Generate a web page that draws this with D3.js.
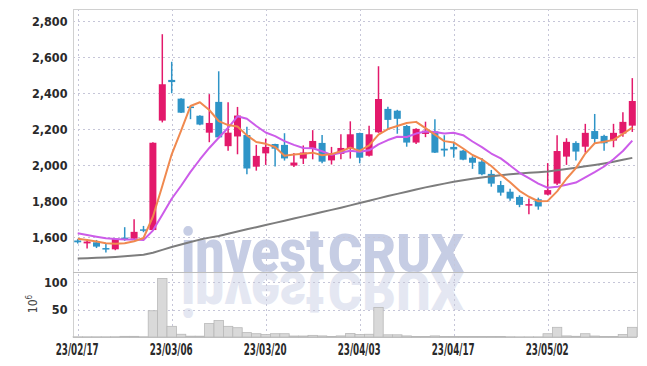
<!DOCTYPE html>
<meta charset="utf-8">
<title>Candles</title>
<style>
body {
  margin: 0;
  background-color: #fff;
}
text {
  font-family: "DejaVu Sans Condensed", "DejaVu Sans", sans-serif;
  font-stretch: condensed;
  fill: #2a2a2a;
}
</style>
<svg width="647" height="366"></svg>
<script src="https://cdn.jsdelivr.net/npm/d3@7"></script>
<script>

// trading days, 23/02/17 .. 23/05/16
var dates = ["23/02/17","23/02/20","23/02/21","23/02/22","23/02/23","23/02/24","23/02/27","23/02/28","23/03/02","23/03/03",
             "23/03/06","23/03/07","23/03/08","23/03/09","23/03/10","23/03/13","23/03/14","23/03/15","23/03/16","23/03/17",
             "23/03/20","23/03/21","23/03/22","23/03/23","23/03/24","23/03/27","23/03/28","23/03/29","23/03/30","23/03/31",
             "23/04/03","23/04/04","23/04/05","23/04/06","23/04/07","23/04/10","23/04/11","23/04/12","23/04/13","23/04/14",
             "23/04/17","23/04/18","23/04/19","23/04/20","23/04/21","23/04/24","23/04/25","23/04/26","23/04/27","23/04/28",
             "23/05/02","23/05/03","23/05/04","23/05/08","23/05/09","23/05/10","23/05/11","23/05/12","23/05/15","23/05/16"];

var open  = [1582,1566,1572,1540,1533,1598,1592,1644,1640,2248, 2474,2370,2326,2275,2181,2352,2106,2160,2168,1992,
             2066,2118,2113,1998,2037,2092,2124,2027,2063,2092, 2179,2053,2183,2313,2303,2218,2126,2174,2188,2092,
             2102,2081,2042,2020,1952,1890,1853,1824,1776,1811, 1837,1898,2048,2124,2103,2190,2163,2137,2176,2220];
var high  = [1590,1590,1585,1567,1594,1656,1700,1663,2128,2728, 2575,2372,2328,2278,2395,2522,2350,2324,2214,2113,
             2148,2120,2178,2068,2110,2195,2168,2102,2172,2244, 2181,2220,2550,2325,2308,2224,2205,2242,2256,2167,
             2131,2085,2050,2040,1974,1913,1870,1833,1815,1820, 2012,2167,2150,2133,2230,2285,2170,2230,2295,2484];
var low   = [1565,1537,1540,1515,1528,1580,1588,1628,1636,2238, 2400,2290,2256,2222,2128,2150,2080,2061,1950,1970,
             2002,1993,2026,1990,2007,2033,2011,2004,2033,2037, 2011,2048,2180,2202,2175,2103,2118,2156,2068,2048,
             2042,2028,1980,1944,1881,1831,1803,1767,1728,1753, 1833,1890,2002,2026,2070,2118,2081,2100,2159,2185];
var close = [1572,1576,1548,1534,1592,1586,1630,1636,2125,2450, 2462,2292,2318,2226,2235,2155,2181,2276,1982,2052,
             2102,2092,2038,2015,2071,2135,2020,2068,2096,2172, 2042,2172,2368,2252,2258,2126,2202,2192,2070,2082,
             2088,2031,2014,1950,1898,1848,1815,1780,1784,1771, 1862,2079,2130,2076,2180,2146,2122,2180,2241,2357];

// volume, millions of shares
var volume = [0.4,0.4,0.4,0.4,0.5,1.2,1.2,0.5,48,107, 19.5,5,1.5,1.5,24.5,30,19.5,17,8,6,
              4.4,6,6,1.8,1.8,3,2,1,2,6.5, 4.5,5,54,4,4,2,1,1,2,1,
              1,1,1,1,1,0.8,0.5,0.3,0.3,0.3, 6,17.7,2,1.3,6,1.8,1,1,4.5,17.7];

// moving averages
var ma5  = [1592,1585,1576,1567,1564,1567,1578,1596,1714,1885, 2061,2193,2329,2350,2307,2245,2223,2215,2166,2129,
            2119,2101,2053,2060,2064,2070,2056,2062,2078,2098, 2080,2110,2170,2201,2218,2235,2241,2206,2170,2134,
            2127,2093,2057,2033,1996,1948,1905,1858,1825,1800, 1802,1855,1925,1984,2065,2122,2131,2141,2174,2209];
var ma10 = [1622,1613,1603,1594,1591,1588,1587,1585,1637,1725, 1814,1886,1963,2032,2096,2153,2208,2272,2258,2218,
            2182,2162,2134,2113,2096,2094,2078,2058,2069,2081, 2075,2083,2116,2140,2158,2157,2176,2188,2185,2176,
            2181,2167,2132,2101,2065,2038,1999,1958,1929,1898, 1875,1880,1892,1904,1933,1962,1993,2033,2079,2137];
var ma60 = [1482,1484,1486,1488,1491,1494,1498,1503,1514,1530, 1546,1560,1574,1587,1598,1607,1620,1632,1644,1656,
            1668,1680,1692,1704,1716,1728,1740,1752,1764,1777, 1790,1803,1816,1829,1841,1853,1865,1877,1888,1898,
            1908,1917,1925,1932,1939,1945,1950,1954,1958,1961, 1965,1972,1979,1986,1994,2002,2010,2019,2030,2041];

var dateTicks  = ["23/02/17","23/03/06","23/03/20","23/04/03","23/04/17","23/05/02"];
var priceTicks = [1600, 1800, 2000, 2200, 2400, 2600, 2800];
var volumeTicks = [50, 100];

var svg = d3.select("svg");

var plotLeft = 73, plotRight = 637, plotTop = 9, split = 272, plotBottom = 337;

var x = d3.scaleBand()
    .domain(dates)
    .range([plotLeft, plotRight]);

var cx = function(d) { return x(d) + x.bandwidth() / 2; };

var y = d3.scaleLinear()
    .domain([1407, 2868])
    .range([split, plotTop]);

var yv = d3.scaleLinear()
    .domain([0, 118.8])
    .range([plotBottom, split]);

var up = "#e3196b", down = "#2e94c7";

// watermark + its reflection
function logo(g, fill) {
  g.append("text")
      .attr("x", 181).attr("y", split)
      .attr("textLength", 143).attr("lengthAdjust", "spacingAndGlyphs")
      .style("font-family", "Roboto, 'DejaVu Sans', sans-serif")
      .style("font-stretch", "normal")
      .style("font-size", "62px").style("font-weight", 900)
      .style("fill", fill)
      .text("invest");
  g.append("text")
      .attr("x", 328).attr("y", split)
      .attr("textLength", 136).attr("lengthAdjust", "spacingAndGlyphs")
      .style("font-family", "Roboto, 'DejaVu Sans', sans-serif")
      .style("font-stretch", "normal")
      .style("font-size", "53px").style("font-weight", 900)
      .style("fill", fill)
      .text("CRUX");
}
logo(svg.append("g"), "#c6cde4");
logo(svg.append("g").attr("transform", "translate(0," + (2 * split) + ") scale(1,-1)"), "#e4e7f2");

// grid
var grid = svg.append("g")
    .attr("stroke", "#c6c6d8")
    .attr("stroke-width", 1)
    .attr("stroke-dasharray", "2,3");

grid.selectAll("line.py")
    .data(priceTicks)
  .enter().append("line")
    .attr("x1", plotLeft).attr("x2", plotRight)
    .attr("y1", function(d) { return Math.round(y(d)) + 0.5; })
    .attr("y2", function(d) { return Math.round(y(d)) + 0.5; });

grid.selectAll("line.vy")
    .data(volumeTicks)
  .enter().append("line")
    .attr("x1", plotLeft).attr("x2", plotRight)
    .attr("y1", function(d) { return Math.round(yv(d)) + 0.5; })
    .attr("y2", function(d) { return Math.round(yv(d)) + 0.5; });

grid.selectAll("line.gx")
    .data(dateTicks)
  .enter().append("line")
    .attr("x1", function(d) { return Math.round(cx(d)) + 0.5; })
    .attr("x2", function(d) { return Math.round(cx(d)) + 0.5; })
    .attr("y1", plotTop).attr("y2", plotBottom);

// frame
var frame = svg.append("g").attr("stroke", "#d0d0d0").attr("stroke-width", 1);
frame.append("line").attr("x1", plotLeft).attr("x2", plotRight).attr("y1", plotTop + 0.5).attr("y2", plotTop + 0.5);
frame.append("line").attr("x1", plotLeft + 0.5).attr("x2", plotLeft + 0.5).attr("y1", plotTop).attr("y2", plotBottom);
frame.append("line").attr("x1", plotRight + 0.5).attr("x2", plotRight + 0.5).attr("y1", plotTop).attr("y2", plotBottom);
frame.append("line").attr("x1", plotLeft).attr("x2", plotRight).attr("y1", split + 0.5).attr("y2", split + 0.5).attr("stroke", "#bdbdbd");
frame.append("line").attr("x1", plotLeft).attr("x2", plotRight).attr("y1", plotBottom + 0.5).attr("y2", plotBottom + 0.5).attr("stroke", "#c4c4c4");

// volume bars
svg.append("g").selectAll("rect")
    .data(dates)
  .enter().append("rect")
    .attr("x", function(d) { return x(d); })
    .attr("width", x.bandwidth())
    .attr("y", function(d, i) { return yv(volume[i]); })
    .attr("height", function(d, i) { return plotBottom - yv(volume[i]); })
    .attr("fill", "#d9d9d9")
    .attr("stroke", "#b8b8b8")
    .attr("stroke-width", 0.8);

// candles
var candle = svg.append("g").selectAll("g")
    .data(dates)
  .enter().append("g")
    .attr("fill", function(d, i) { return close[i] >= open[i] ? up : down; })
    .attr("stroke", function(d, i) { return close[i] >= open[i] ? up : down; });

candle.append("line")
    .attr("x1", cx).attr("x2", cx)
    .attr("y1", function(d, i) { return y(high[i]); })
    .attr("y2", function(d, i) { return y(low[i]); })
    .attr("stroke-width", 1.5);

candle.append("rect")
    .attr("x", function(d) { return cx(d) - 3.5; })
    .attr("width", 7)
    .attr("y", function(d, i) { return y(Math.max(open[i], close[i])); })
    .attr("height", function(d, i) { return Math.max(1.5, Math.abs(y(open[i]) - y(close[i]))); })
    .attr("stroke", "none");

// moving averages
var line = d3.line()
    .x(function(d, i) { return cx(dates[i]); })
    .y(function(d) { return y(d); });

[[ma60, "#7d7d7d"], [ma10, "#cc5ce9"], [ma5, "#f0894f"]].forEach(function(s) {
  svg.append("path")
      .attr("d", line(s[0]))
      .attr("fill", "none")
      .attr("stroke", s[1])
      .attr("stroke-width", 2)
      .attr("stroke-linejoin", "round");
});

// axis labels
svg.append("g").selectAll("text")
    .data(priceTicks)
  .enter().append("text")
    .attr("x", 67.5)
    .attr("y", function(d) { return y(d) + 4.5; })
    .attr("text-anchor", "end")
    .style("font-size", "12.5px")
    .style("font-weight", "bold")
    .text(d3.format(","));

svg.append("g").selectAll("text")
    .data(volumeTicks)
  .enter().append("text")
    .attr("x", 67.5)
    .attr("y", function(d) { return yv(d) + 4.5; })
    .attr("text-anchor", "end")
    .style("font-size", "12.5px")
    .style("font-weight", "bold")
    .text(function(d) { return d; });

var unit = svg.append("text")
    .attr("transform", "translate(37,304) rotate(-90)")
    .attr("text-anchor", "middle")
    .style("font-size", "12px")
    .style("fill", "#444");
unit.append("tspan").text("10");
unit.append("tspan").attr("dy", -5).style("font-size", "8px").text("6");

svg.append("g").selectAll("text")
    .data(dateTicks)
  .enter().append("text")
    .attr("x", function(d) { return cx(d) - 22; })
    .attr("y", 355)
    .attr("textLength", 43)
    .attr("lengthAdjust", "spacingAndGlyphs")
    .style("font-size", "15px")
    .style("font-weight", "bold")
    .text(function(d) { return d; });

</script>
